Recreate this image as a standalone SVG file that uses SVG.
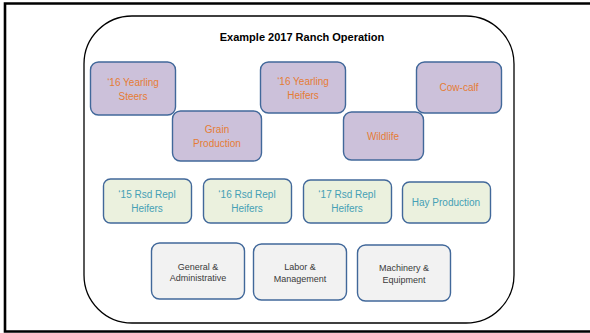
<svg xmlns="http://www.w3.org/2000/svg" width="590" height="333" viewBox="0 0 590 333">
  <style>
    text { font-family: "Liberation Sans", Arial, sans-serif; text-anchor: middle; }
    .node { stroke: #41689A; stroke-width: 1.4; }
    .enterprise { fill: #CCC1DA; }
    .heifer { fill: #EBF1DE; }
    .overhead { fill: #F2F2F2; }
    .t-orange { fill: #E57C35; font-size: 10px; }
    .t-teal { fill: #45A0B5; font-size: 10px; }
    .t-gray { fill: #3A3A3A; font-size: 9px; }
    .title { font-size: 11px; font-weight: bold; fill: #000; }
  </style>

  <rect width="590" height="333" fill="#fff"/>
  <!-- page frame -->
  <path d="M596 3.5 H5 V331.5 H596" fill="none" stroke="#000" stroke-width="2.6"/>

  <!-- operation boundary -->
  <rect x="84" y="16" width="430" height="307" rx="48" ry="48" fill="#fff" stroke="#000" stroke-width="1.3"/>
  <text class="title" x="302" y="41">Example 2017 Ranch Operation</text>

  <!-- enterprises -->
  <g id="steers16">
    <rect class="node enterprise" x="90.5" y="62" width="85" height="53" rx="8"/>
    <text class="t-orange" x="133" y="86">‘16 Yearling</text>
    <text class="t-orange" x="133" y="99.5">Steers</text>
  </g>
  <g id="grain">
    <rect class="node enterprise" x="172.5" y="111" width="89" height="50" rx="8"/>
    <text class="t-orange" x="217" y="133">Grain</text>
    <text class="t-orange" x="217" y="146.5">Production</text>
  </g>
  <g id="heifers16">
    <rect class="node enterprise" x="260.5" y="62" width="85" height="51" rx="8"/>
    <text class="t-orange" x="303" y="85">‘16 Yearling</text>
    <text class="t-orange" x="303" y="98.5">Heifers</text>
  </g>
  <g id="wildlife">
    <rect class="node enterprise" x="343.5" y="112" width="80" height="48" rx="8"/>
    <text class="t-orange" x="383" y="139.5">Wildlife</text>
  </g>
  <g id="cowcalf">
    <rect class="node enterprise" x="416.5" y="62" width="85" height="51" rx="8"/>
    <text class="t-orange" x="459" y="91">Cow-calf</text>
  </g>

  <!-- raised replacement heifers and hay -->
  <g id="rsd15">
    <rect class="node heifer" x="103.5" y="179" width="88" height="44" rx="7"/>
    <text class="t-teal" x="147" y="197.5">‘15 Rsd Repl</text>
    <text class="t-teal" x="147" y="211.5">Heifers</text>
  </g>
  <g id="rsd16">
    <rect class="node heifer" x="203.5" y="179" width="88" height="44" rx="7"/>
    <text class="t-teal" x="247" y="197.5">‘16 Rsd Repl</text>
    <text class="t-teal" x="247" y="211.5">Heifers</text>
  </g>
  <g id="rsd17">
    <rect class="node heifer" x="303.5" y="180" width="88" height="43" rx="7"/>
    <text class="t-teal" x="347" y="198">‘17 Rsd Repl</text>
    <text class="t-teal" x="347" y="211.5">Heifers</text>
  </g>
  <g id="hay">
    <rect class="node heifer" x="402.5" y="182" width="88" height="41" rx="7"/>
    <text class="t-teal" x="446" y="206">Hay Production</text>
  </g>

  <!-- overhead cost centres -->
  <g id="admin">
    <rect class="node overhead" x="151.5" y="243" width="93" height="56" rx="8"/>
    <text class="t-gray" x="198" y="269.5">General &amp;</text>
    <text class="t-gray" x="198" y="280.5">Administrative</text>
  </g>
  <g id="labor">
    <rect class="node overhead" x="253.5" y="244" width="93" height="56" rx="8"/>
    <text class="t-gray" x="300" y="269.5">Labor &amp;</text>
    <text class="t-gray" x="300" y="281.5">Management</text>
  </g>
  <g id="machinery">
    <rect class="node overhead" x="357.5" y="245" width="93" height="56" rx="8"/>
    <text class="t-gray" x="404" y="271">Machinery &amp;</text>
    <text class="t-gray" x="404" y="283">Equipment</text>
  </g>
</svg>
